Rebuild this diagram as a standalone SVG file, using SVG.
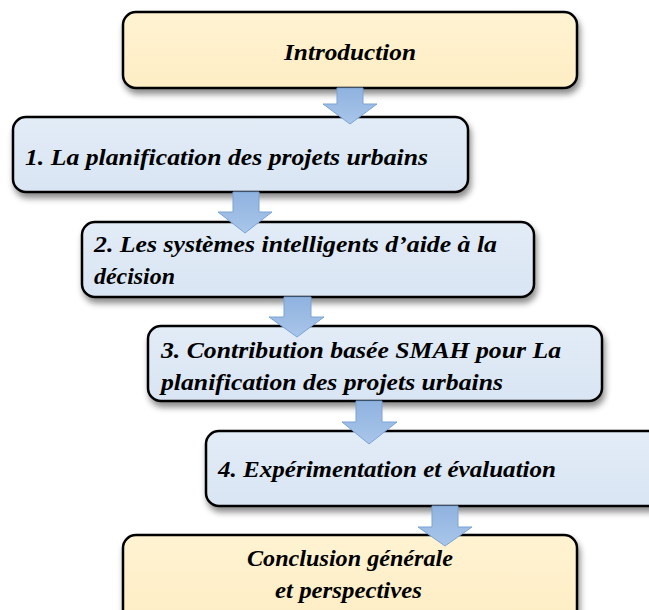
<svg xmlns="http://www.w3.org/2000/svg" width="649" height="610" viewBox="0 0 649 610">
<defs>
<filter id="sh" x="-10%" y="-20%" width="130%" height="160%">
<feDropShadow dx="2" dy="5" stdDeviation="3" flood-color="#000" flood-opacity="0.45"/>
</filter>
<linearGradient id="gy" x1="0" y1="0" x2="0" y2="1">
<stop offset="0" stop-color="#fff3d2"/><stop offset="1" stop-color="#feedc4"/>
</linearGradient>
<linearGradient id="gb" x1="0" y1="0" x2="0" y2="1">
<stop offset="0" stop-color="#e2ecf7"/><stop offset="1" stop-color="#d9e5f3"/>
</linearGradient>
<linearGradient id="ga" x1="0" y1="0" x2="0" y2="1">
<stop offset="0" stop-color="#8fb2df"/><stop offset="1" stop-color="#a9c6ea"/>
</linearGradient>
</defs>
<style>
.box{stroke:#000;stroke-width:2.5;filter:url(#sh)}
.y{fill:url(#gy)}
.b{fill:url(#gb)}
.arr{fill:url(#ga);stroke:#7aa3d6;stroke-width:1}
text{font-family:"Liberation Serif","DejaVu Serif",serif;font-weight:bold;font-style:italic;font-size:24px;fill:#000}
</style>
<rect width="649" height="610" fill="#fff"/>
<g id="n0"><rect class="box y" x="123" y="12" width="454" height="76" rx="13"/><text x="284" y="60" textLength="132" lengthAdjust="spacingAndGlyphs">Introduction</text></g>
<g id="n1"><rect class="box b" x="13" y="117" width="455" height="75" rx="13"/><text x="25" y="165" textLength="403" lengthAdjust="spacingAndGlyphs">1. La planification des projets urbains</text></g>
<g id="n2"><rect class="box b" x="82" y="222" width="452" height="75" rx="13"/><text x="94" y="252" textLength="403" lengthAdjust="spacingAndGlyphs">2. Les systèmes intelligents d’aide à la</text><text x="94" y="284" textLength="81" lengthAdjust="spacingAndGlyphs">décision</text></g>
<g id="n3"><rect class="box b" x="148" y="326" width="454" height="75" rx="13"/><text x="161" y="358" textLength="400" lengthAdjust="spacingAndGlyphs">3. Contribution basée SMAH pour La</text><text x="161" y="390" textLength="342" lengthAdjust="spacingAndGlyphs">planification des projets urbains</text></g>
<g id="n4"><rect class="box b" x="206" y="431" width="460" height="75" rx="13"/><text x="218" y="477" textLength="338" lengthAdjust="spacingAndGlyphs">4. Expérimentation et évaluation</text></g>
<g id="n5"><rect class="box y" x="123" y="535" width="454" height="90" rx="13"/><text x="247" y="566" textLength="206" lengthAdjust="spacingAndGlyphs">Conclusion générale</text><text x="275" y="598" textLength="147" lengthAdjust="spacingAndGlyphs">et perspectives</text></g>
<g id="connectors">
<path class="arr" d="M337 88V104H323L350 124L377 104H363V88Z"/>
<path class="arr" d="M233 192V212H218L245 233L272 212H259V192Z"/>
<path class="arr" d="M284 297V317H269L297 337L324 317H311V297Z"/>
<path class="arr" d="M356 401V422H342L369 444L397 422H382V401Z"/>
<path class="arr" d="M432 506V527H418L445 546L472 527H458V506Z"/>
</g>
</svg>
